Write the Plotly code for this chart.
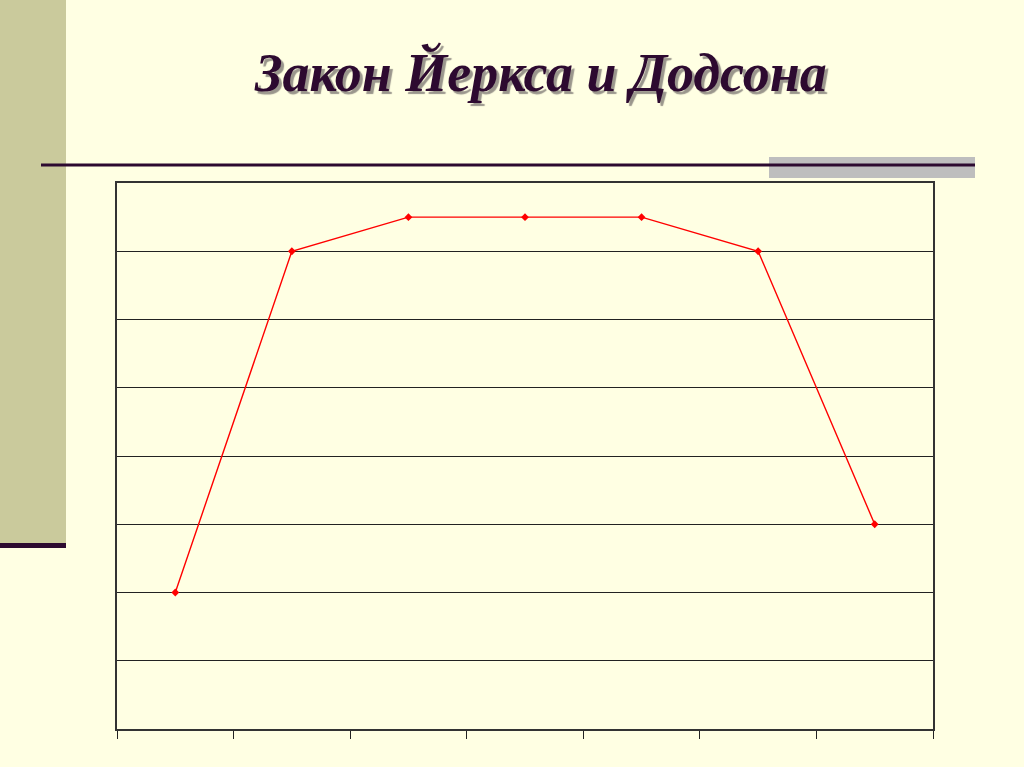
import plotly.graph_objects as go

# performance vs. motivation level (Yerkes-Dodson)
levels = [1, 2, 3, 4, 5, 6, 7]
performance = [2, 7, 7.5, 7.5, 7.5, 7, 3]
title_text = "Закон Йеркса и Додсона"

W, H = 1024, 767
L, R, T, B = 117, 933, 183, 729  # plot area in pixels


def px(x):
    return (x - L) / (R - L)


def py(y):
    return (B - y) / (B - T)


bg = "#FFFFE3"
olive = "#CACA9C"
dark = "#2D0A30"

fig = go.Figure()
fig.add_trace(go.Scatter(
    x=levels, y=performance, mode="lines+markers",
    line=dict(color="#FF0000", width=1.4),
    marker=dict(symbol="diamond", size=6, color="#FF0000"),
    showlegend=False, hoverinfo="skip",
))

shapes = [
    dict(type="rect", xref="paper", yref="paper", x0=px(0), x1=px(66), y0=py(0), y1=py(545),
         fillcolor=olive, line_width=0, layer="below"),
    dict(type="rect", xref="paper", yref="paper", x0=px(0), x1=px(66), y0=py(543), y1=py(548),
         fillcolor=dark, line_width=0, layer="below"),
    dict(type="rect", xref="paper", yref="paper", x0=px(769), x1=px(975), y0=py(157), y1=py(178),
         fillcolor="#BEBEBE", line_width=0, layer="below"),
    dict(type="line", xref="paper", yref="paper", x0=px(41), x1=px(975), y0=py(165), y1=py(165),
         line=dict(color=dark, width=3), layer="below"),
]

annotations = [
    dict(text="<b><i>%s</i></b>" % title_text, xref="paper", yref="paper",
         x=px(540), y=py(72), showarrow=False, xanchor="center", yanchor="middle",
         font=dict(family="Liberation Serif", size=54, color=dark,
                   shadow="3px 3px 1px #9A968C")),
]

fig.update_layout(
    width=W, height=H,
    margin=dict(l=L, r=W - R, t=T, b=H - B),
    paper_bgcolor=bg, plot_bgcolor=bg,
    shapes=shapes, annotations=annotations,
    xaxis=dict(range=[0.5, 7.5], tickvals=[0.5 + i for i in range(8)], showticklabels=False,
               ticks="outside", ticklen=8, tickcolor="#222", tickwidth=1.2,
               showgrid=False, zeroline=False, showline=True, linecolor="#333", linewidth=1.5,
               mirror=True),
    yaxis=dict(range=[0, 8], dtick=1, showticklabels=False, ticks="",
               showgrid=True, gridcolor="#222", gridwidth=1.2, zeroline=False,
               showline=True, linecolor="#333", linewidth=1.5, mirror=True),
)

fig.write_html("out.html", config={"displayModeBar": False},
               post_script="document.body.style.margin='0';"
                           "document.body.style.background='%s';" % bg)
